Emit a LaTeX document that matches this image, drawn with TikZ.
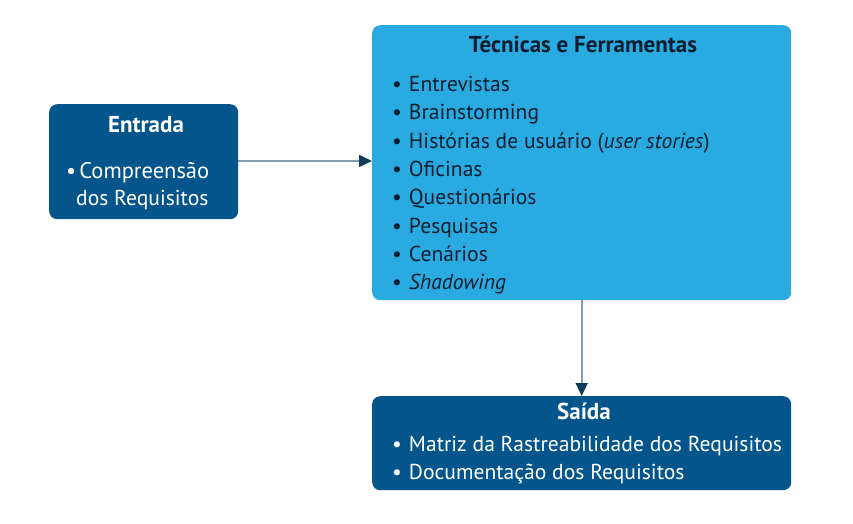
\documentclass[tikz,border=0pt]{standalone}
\usepackage{fontspec}
\setmainfont{PT Sans}
\usetikzlibrary{arrows.meta}
\definecolor{darkbox}{HTML}{03558B}
\definecolor{lightbox}{HTML}{29ABE2}
\definecolor{navytext}{HTML}{0B1E30}
\definecolor{linecol}{HTML}{7F9FB2}
\definecolor{tipcol}{HTML}{0D3B5A}
\tikzset{
  box/.style={rounded corners=8pt, inner sep=0pt, anchor=north west},
  darkb/.style={box, fill=darkbox},
  lightb/.style={box, fill=lightbox},
  ttl/.style={anchor=base, font=\fontsize{23}{26}\selectfont\bfseries, inner sep=0pt},
  lst/.style={anchor=base west, inner sep=0pt, align=left},
  conn/.style={draw=linecol, line width=1.6pt, -{Triangle[length=13pt,width=12pt,color=tipcol]}},
}
\newcommand{\blist}[1]{\fontsize{21.6}{28.3}\selectfont\begin{tabular}[t]{@{}l@{\hspace{7pt}}l@{}}#1\end{tabular}}
\begin{document}
\begin{tikzpicture}[x=1pt,y=-1pt]
\useasboundingbox (0,0) rectangle (853,524);
% boxes
\node[darkb, minimum width=189pt, minimum height=115pt] (entrada) at (49,104) {};
\node[lightb, minimum width=419pt, minimum height=275pt] (tecnicas) at (372,25) {};
\node[darkb, minimum width=419pt, minimum height=94pt] (saida) at (372,396) {};
% Entrada text
\node[ttl, text=white] (entT) at (146,132.3) {Entrada};
\node[lst, text=white] (entL) at (66,178.3) {\fontsize{22.5}{27.5}\selectfont\begin{tabular}[t]{@{}l@{}}\textbullet\hspace{3pt}Compreensão\\\hspace{10pt}{\fontsize{21.6}{27.5}\selectfont dos Requisitos}\end{tabular}};
% Tecnicas text
\node[ttl, text=navytext] (tecT) at (583,52.3) {Técnicas e Ferramentas};
\node[lst, text=navytext] (tecL) at (392,91.6) {\blist{%
\textbullet & Entrevistas\\
\textbullet & Brainstorming\\
\textbullet & Histórias de usuário (\textit{user stories})\\
\textbullet & Oficinas\\
\textbullet & Questionários\\
\textbullet & Pesquisas\\
\textbullet & Cenários\\
\textbullet & \textit{Shadowing}}};
% Saida text
\node[ttl, text=white] (saiT) at (584,419.3) {Saída};
\node[lst, text=white] (saiL) at (392,451.7) {\fontsize{21.6}{27.6}\selectfont\begin{tabular}[t]{@{}l@{\hspace{7pt}}l@{}}%
\textbullet & Matriz da Rastreabilidade dos Requisitos\\
\textbullet & Documentação dos Requisitos\end{tabular}};
% connectors
\draw[conn] (entrada.east |- 0,161) -- (tecnicas.west |- 0,161);
\draw[conn] (tecnicas.south) -- (saida.north);
\end{tikzpicture}
\end{document}
